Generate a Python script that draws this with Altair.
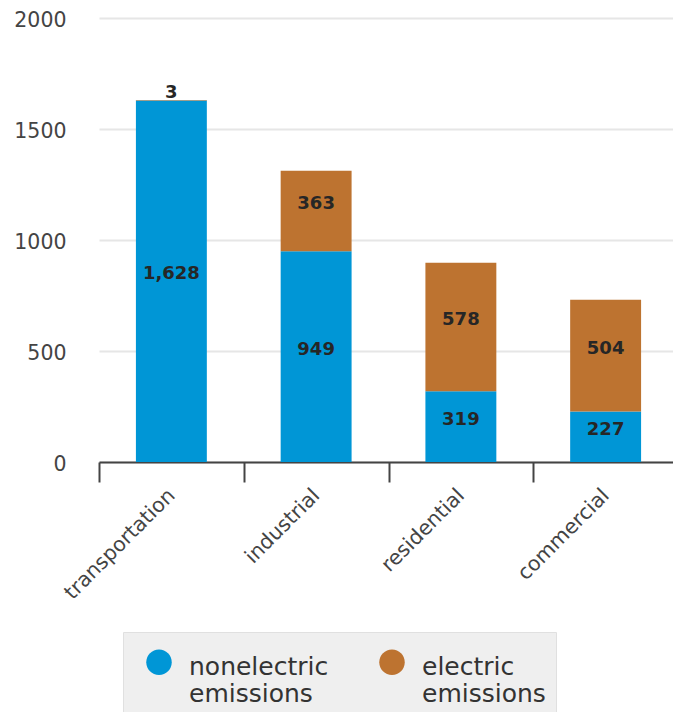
import altair as alt
import pandas as pd

# Emissions by end-use sector, split into nonelectric and electric parts
sectors = ["transportation", "industrial", "residential", "commercial"]
nonelectric = [1628, 949, 319, 227]
electric = [3, 363, 578, 504]

series_names = ["nonelectric emissions", "electric emissions"]
series_colors = ["#0096d6", "#bd7330"]
y_ticks = [0, 500, 1000, 1500, 2000]

rows = []
for i, s in enumerate(sectors):
    rows.append({"sector": s, "kind": series_names[0], "idx": 0, "value": nonelectric[i]})
    rows.append({"sector": s, "kind": series_names[1], "idx": 1, "value": electric[i]})
df = pd.DataFrame(rows)

PLOT_W = 574
PLOT_H = 444
TOP = 18

# legend dot: a unit circle drawn a little below the first label line's anchor
legend_dot = "M -1 0.57 A 1 1 0 1 0 1 0.57 A 1 1 0 1 0 -1 0.57 Z"

base = alt.Chart(df).transform_stack(
    stack="value",
    groupby=["sector"],
    sort=[alt.SortField("idx", order="ascending")],
    as_=["v0", "v1"],
).transform_calculate(mid="(datum.v0 + datum.v1) / 2")

x_enc = alt.X(
    "sector:N",
    sort=sectors,
    scale=alt.Scale(paddingInner=0, paddingOuter=0, range=[0, 579]),
    axis=alt.Axis(
        title=None,
        labelAngle=-45,
        labelAlign="right",
        labelBaseline="middle",
        labelFont="DejaVu Sans",
        labelFontSize=20.5,
        labelColor="#444444",
        labelPadding=10,
        tickBand="extent",
        tickSize=20,
        tickWidth=2,
        tickColor="#444444",
        domainColor="#444444",
        domainWidth=2,
        grid=False,
    ),
)

bars = base.mark_bar(width=alt.RelativeBandSize(0.49)).encode(
    x=x_enc,
    y=alt.Y(
        "v0:Q",
        scale=alt.Scale(domain=[0, 2000], nice=False),
        axis=alt.Axis(
            title=None,
            values=y_ticks,
            format="d",
            domain=False,
            ticks=False,
            tickSize=0,
            labelFont="DejaVu Sans",
            labelFontSize=20.5,
            labelColor="#444444",
            labelPadding=33,
            labelOffset=2,
            gridColor="#e6e6e6",
            gridWidth=2,
        ),
    ),
    y2="v1:Q",
    color=alt.Color(
        "kind:N",
        scale=alt.Scale(domain=series_names, range=series_colors),
        legend=alt.Legend(
            title=None,
            orient="none",
            direction="horizontal",
            legendX=24,
            legendY=632 - TOP,
            symbolType=legend_dot,
            symbolSize=650,
            symbolStrokeWidth=0,
            symbolOffset=13,
            labelFont="DejaVu Sans",
            labelFontSize=25,
            labelColor="#333333",
            labelExpr="split(datum.label, ' ')",
            labelBaseline="top",
            labelOffset=17,
            labelLimit=300,
            columnPadding=37,
            padding=10,
            fillColor="#efefef",
            strokeColor="#e0e0e0",
        ),
    ),
)

labels = base.mark_text(
    font="DejaVu Sans",
    fontSize=18,
    fontWeight="bold",
    color="#262626",
    baseline="middle",
    dy=-7,
).encode(
    x=alt.X("sector:N", sort=sectors),
    y=alt.Y("mid:Q"),
    text=alt.Text("value:Q", format=",d"),
)

chart = (
    alt.layer(bars, labels)
    .properties(
        width=PLOT_W,
        height=PLOT_H,
        autosize=alt.AutoSizeParams(type="none"),
        padding={"left": 99, "top": TOP, "right": 0, "bottom": 712 - TOP - PLOT_H},
    )
    .configure_view(stroke=None)
)

chart.save("out.html", embed_options={"renderer": "svg", "actions": False})
